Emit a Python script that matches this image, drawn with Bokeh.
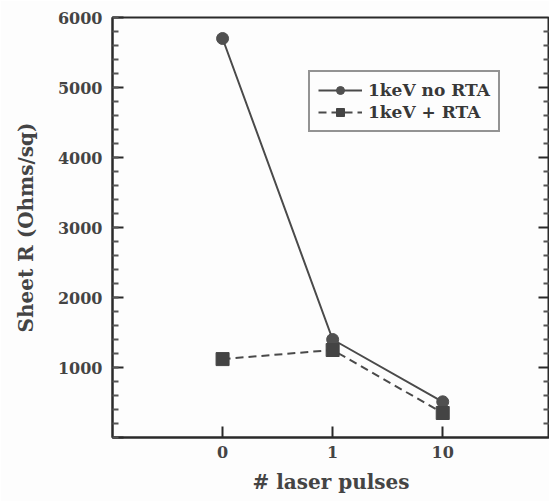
from bokeh.plotting import figure
from bokeh.models import (Range1d, FixedTicker, Legend, LegendItem,
                          SingleIntervalTicker)
from bokeh.embed import file_html
from bokeh.resources import INLINE

pulse_labels = ["0", "1", "10"]
no_rta = [5700, 1400, 510]
with_rta = [1120, 1250, 350]
y_major = [1000, 2000, 3000, 4000, 5000]
y_minor = [v for v in range(200, 6000, 200) if v % 1000 != 0]

xpos = list(range(len(pulse_labels)))

FONT = "DejaVu Serif"
AX = "#2a2a2a"
X_END = 2.97

p = figure(width=549, height=501, output_backend="svg", toolbar_location=None,
           x_range=Range1d(-1, X_END), y_range=Range1d(0, 6000),
           min_border_left=112, min_border_top=17, min_border_bottom=64, min_border_right=0)
p.background_fill_color = "#fdfdfd"
p.border_fill_color = "#fdfdfd"
p.outline_line_color = AX
p.outline_line_width = 2
p.grid.visible = False

xa = p.xaxis[0]
xa.ticker = FixedTicker(ticks=xpos)
xa.major_label_overrides = {i: l for i, l in enumerate(pulse_labels)}
xa.axis_label = "# laser pulses"
xa.axis_label_text_font = FONT
xa.axis_label_text_font_style = "bold"
xa.axis_label_text_font_size = "20px"
xa.axis_label_standoff = 9
xa.major_label_text_font = FONT
xa.major_label_text_font_style = "bold"
xa.major_label_text_font_size = "16px"
xa.major_label_standoff = 8
xa.major_tick_in = 11
xa.major_tick_out = 0
xa.minor_tick_in = 0
xa.minor_tick_out = 0
xa.axis_line_width = 2
xa.axis_line_color = AX
xa.major_tick_line_width = 2
xa.major_tick_line_color = AX

ya = p.yaxis[0]
ya.ticker = SingleIntervalTicker(interval=1000, num_minor_ticks=5)
ya.major_label_overrides = {0: ""}
ya.axis_label = "Sheet R (Ohms/sq)"
ya.axis_label_text_font = FONT
ya.axis_label_text_font_style = "bold"
ya.axis_label_text_font_size = "20px"
ya.axis_label_standoff = 17
ya.major_label_text_font = FONT
ya.major_label_text_font_style = "bold"
ya.major_label_text_font_size = "16px"
ya.major_label_standoff = 10
ya.major_tick_in = 11
ya.major_tick_out = 0
ya.minor_tick_in = 6
ya.minor_tick_out = 0
ya.axis_line_width = 2
ya.axis_line_color = AX
ya.major_tick_line_width = 2
ya.major_tick_line_color = AX
ya.minor_tick_line_width = 2
ya.minor_tick_line_color = "#555555"

# right-edge inward ticks (mirror of the left axis), drawn as dash markers
# centred on the frame's right edge so only the inner half shows
p.scatter([X_END] * len(y_major), y_major, marker="dash", size=22,
          line_color=AX, line_width=2)
p.scatter([X_END] * len(y_minor), y_minor, marker="dash", size=12,
          line_color="#555555", line_width=2)

l1 = p.line(xpos, no_rta, line_color="#4a4a4a", line_width=2)
s1 = p.scatter(xpos, no_rta, marker="circle", size=12, fill_color="#505050", line_color="#505050")
l2 = p.line(xpos, with_rta, line_color="#4a4a4a", line_width=2, line_dash="8 5")
s2 = p.scatter(xpos, with_rta, marker="square", size=13, fill_color="#444444", line_color="#444444")

legend = Legend(items=[
    LegendItem(label="1keV no RTA", renderers=[l1, s1]),
    LegendItem(label="1keV + RTA", renderers=[l2, s2]),
], location=(196, 305))
legend.label_text_font = FONT
legend.label_text_font_style = "bold"
legend.label_text_font_size = "17px"
legend.label_text_color = "#383838"
legend.glyph_width = 44
legend.glyph_height = 20
legend.label_standoff = 6
legend.padding = 8
legend.spacing = 2
legend.border_line_color = AX
legend.border_line_width = 2
legend.background_fill_color = "#fdfdfd"
legend.margin = 0
p.add_layout(legend, "center")

open("out.html", "w").write(file_html(p, INLINE))
